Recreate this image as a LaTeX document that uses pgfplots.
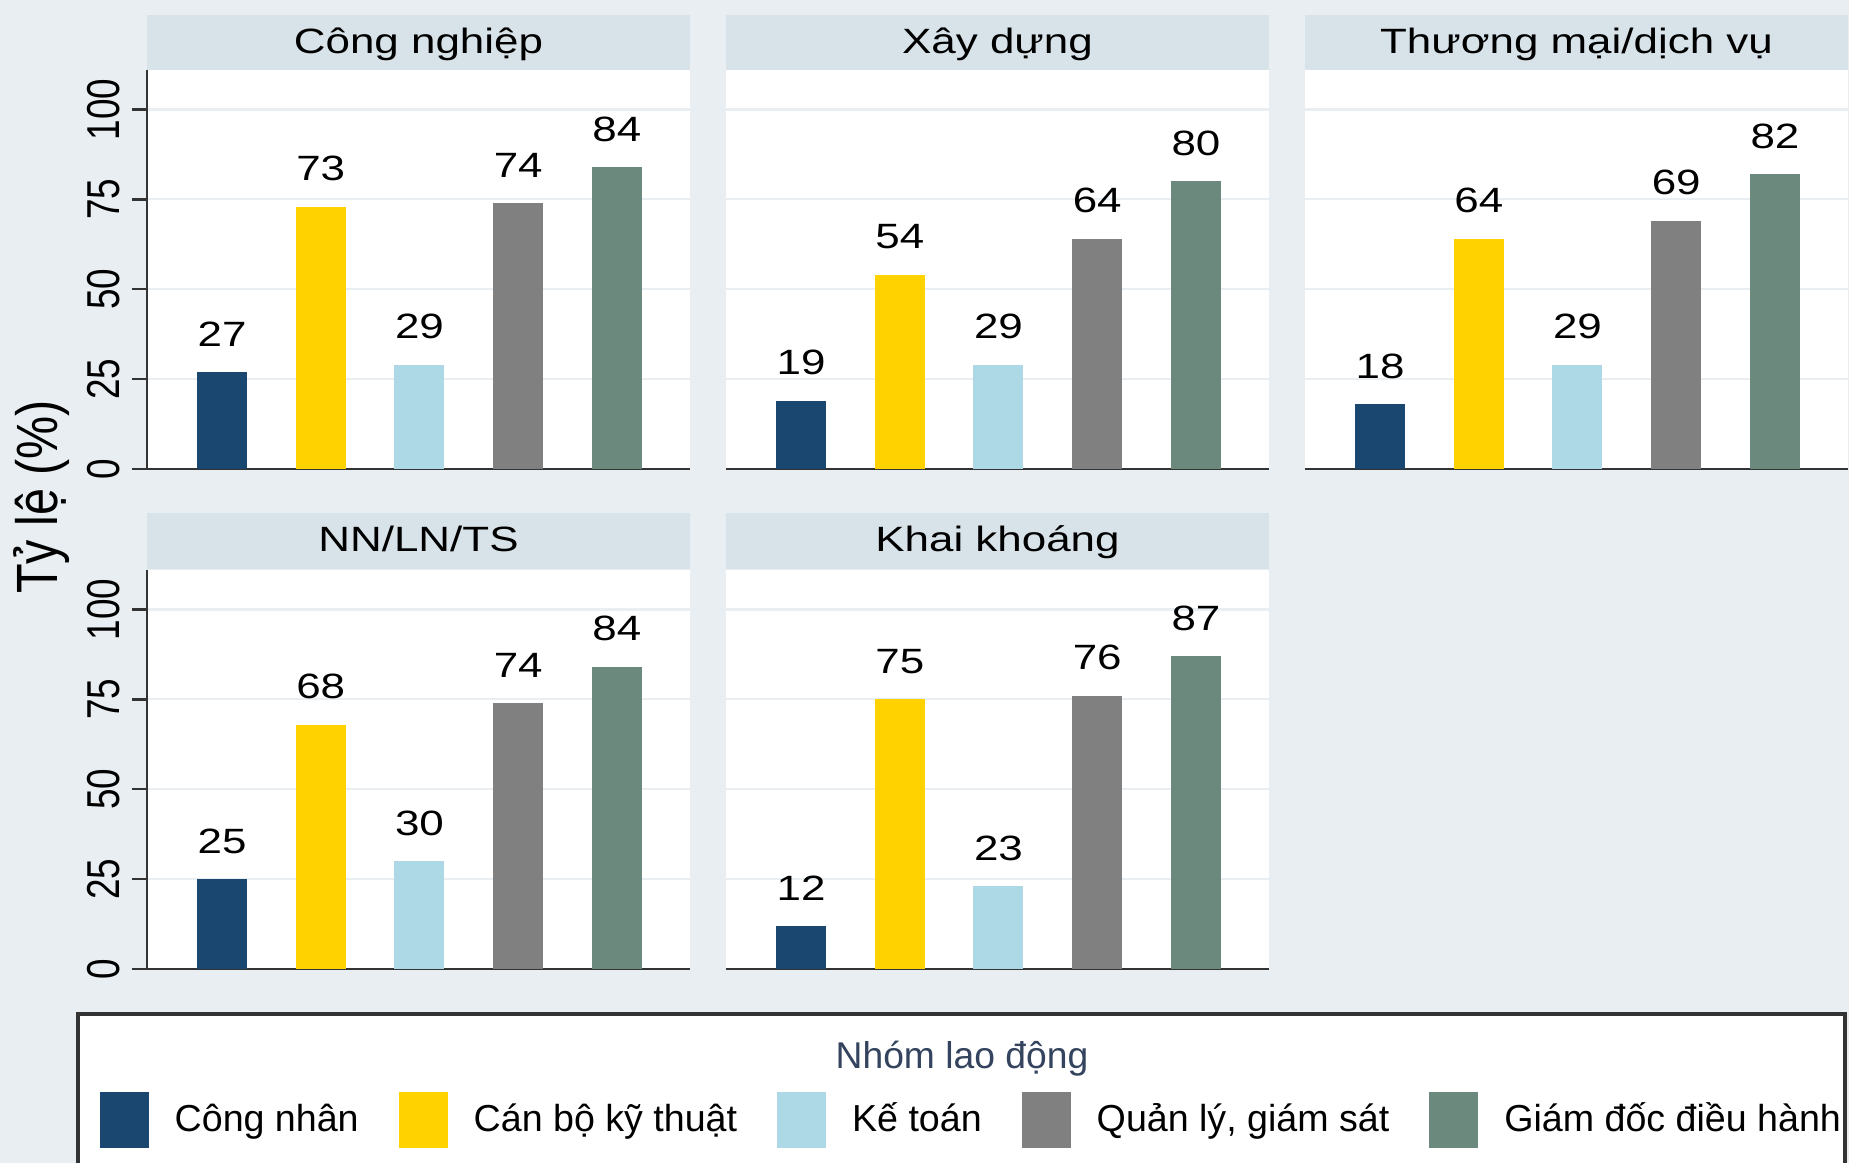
\documentclass[border=0pt]{standalone}
\usepackage{fontspec}
\setmainfont{Liberation Sans}
\newfontfamily\wide{Liberation Sans}[FakeStretch=1.25]
\usepackage{pgfplots}
\pgfplotsset{compat=1.18}

\definecolor{cBg}{HTML}{E8EEF1}
\definecolor{cStrip}{HTML}{D8E3E9}
\definecolor{cGrid}{HTML}{E8EEF1}
\definecolor{cAxis}{HTML}{333333}
\definecolor{cLegT}{HTML}{34435E}
\definecolor{cCN}{HTML}{1A476F}
\definecolor{cCB}{HTML}{FFD200}
\definecolor{cKT}{HTML}{ADD8E6}
\definecolor{cQL}{HTML}{808080}
\definecolor{cGD}{HTML}{6B8A7D}

\pgfplotsset{
  panel/.style={
    scale only axis, width=54.3mm, height=39.9mm, anchor=south west,
    xmin=0.24, xmax=5.74, ymin=0, ymax=111,
    axis background/.style={fill=white},
    ybar, bar width=5mm, bar shift=0pt,
    xtick=\empty, ytick={0,25,50,75,100},
    ymajorgrids, grid style={cGrid, line width=0.6pt},
    axis x line*=bottom, axis y line*=left,
    axis line style={cAxis, line width=0.7pt},
    /pgf/number format/assume math mode=true,
    nodes near coords,
    every node near coord/.append style={font=\wide\fontsize{10}{12}\selectfont,
      anchor=south, inner sep=0pt, yshift=2.5mm, text=black},
  },
  lefty/.style={
    tick align=outside, major tick length=1.5mm,
    ytick style={cAxis, line width=0.7pt},
    yticklabel={\scalebox{1}[1.25]{\pgfmathprintnumber{\tick}}},
    yticklabel style={rotate=90, anchor=south, inner sep=0pt,
      font=\fontsize{10.5}{12}\selectfont, yshift=1.1mm},
  },
  noy/.style={
    y axis line style={draw=none}, ytick style={draw=none}, yticklabels={},
  },
  b1/.style={fill=cCN, draw=none},
  b2/.style={fill=cCB, draw=none},
  b3/.style={fill=cKT, draw=none},
  b4/.style={fill=cQL, draw=none},
  b5/.style={fill=cGD, draw=none},
}

\begin{document}
\begin{tikzpicture}
\fill[cBg] (0,0) rectangle (184.9mm,116.3mm);

% legend frame and title
\draw[cAxis, line width=0.9pt, fill=white] (7.8mm,-5mm) rectangle (184.5mm,14.9mm);
\node[anchor=base, text=cLegT, font=\fontsize{10.6}{12}\selectfont] at (96.2mm,9.4mm) {Nhóm lao động};

% panel title strips
\begin{scope}[x=1mm, y=1mm]
\foreach \x/\y/\t in {14.7/109.2/Công nghiệp, 72.6/109.2/Xây dựng, 130.5/109.2/Thương mại\slash dịch vụ,
                      14.7/59.4/NN\slash LN\slash TS, 72.6/59.4/Khai khoáng} {
  \fill[cStrip] (\x,\y) rectangle ({\x+54.3},{\y+5.6});
  \node[anchor=base, font=\wide\fontsize{10}{12}\selectfont] at ({\x+27.15},{\y+1.75}) {\t};
}
\end{scope}

\node[rotate=90, font=\fontsize{13.8}{16}\selectfont] at (4.2mm,66.6mm) {\scalebox{1}[1.2]{Tỷ lệ (\%)}};

% Cong nghiep
\begin{axis}[panel, lefty, at={(14.7mm,69.4mm)},
  legend columns=5,
  legend image code/.code={\fill[#1] (0mm,-2.8mm) rectangle (4.9mm,2.8mm);},
  legend style={at={(axis description cs:-0.0884,-1.6316)}, anchor=west,
    draw=none, fill=none, inner sep=0pt, font=\fontsize{10.7}{12}\selectfont,
    nodes={inner sep=0pt},
    /tikz/every odd column/.append style={column sep=2.6mm},
    /tikz/every even column/.append style={column sep=4.0mm}}]
\addplot[b1] coordinates {(1,27)}; \addlegendentry{Công nhân}
\addplot[b2] coordinates {(2,73)}; \addlegendentry{Cán bộ kỹ thuật}
\addplot[b3] coordinates {(3,29)}; \addlegendentry{Kế toán}
\addplot[b4] coordinates {(4,74)}; \addlegendentry{Quản lý, giám sát}
\addplot[b5] coordinates {(5,84)}; \addlegendentry{Giám đốc điều hành}
\end{axis}

% Xay dung
\begin{axis}[panel, noy, at={(72.6mm,69.4mm)}]
\addplot[b1] coordinates {(1,19)};
\addplot[b2] coordinates {(2,54)};
\addplot[b3] coordinates {(3,29)};
\addplot[b4] coordinates {(4,64)};
\addplot[b5] coordinates {(5,80)};
\end{axis}

% Thuong mai / dich vu
\begin{axis}[panel, noy, at={(130.5mm,69.4mm)}]
\addplot[b1] coordinates {(1,18)};
\addplot[b2] coordinates {(2,64)};
\addplot[b3] coordinates {(3,29)};
\addplot[b4] coordinates {(4,69)};
\addplot[b5] coordinates {(5,82)};
\end{axis}

% NN/LN/TS
\begin{axis}[panel, lefty, at={(14.7mm,19.4mm)}]
\addplot[b1] coordinates {(1,25)};
\addplot[b2] coordinates {(2,68)};
\addplot[b3] coordinates {(3,30)};
\addplot[b4] coordinates {(4,74)};
\addplot[b5] coordinates {(5,84)};
\end{axis}

% Khai khoang
\begin{axis}[panel, noy, at={(72.6mm,19.4mm)}]
\addplot[b1] coordinates {(1,12)};
\addplot[b2] coordinates {(2,75)};
\addplot[b3] coordinates {(3,23)};
\addplot[b4] coordinates {(4,76)};
\addplot[b5] coordinates {(5,87)};
\end{axis}

\pgfresetboundingbox
\path[use as bounding box] (0,0) rectangle (184.9mm,116.3mm);
\end{tikzpicture}
\end{document}
